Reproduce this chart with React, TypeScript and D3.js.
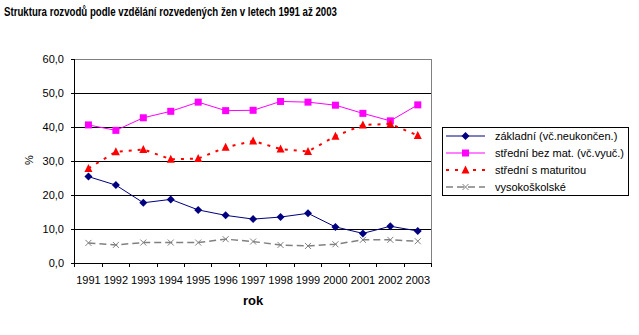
import React from "react";
import * as d3 from "d3";

const years = ["1991","1992","1993","1994","1995","1996","1997","1998","1999","2000","2001","2002","2003"];
const zakladni = [25.5,23.0,17.8,18.8,15.7,14.1,13.0,13.6,14.7,10.7,8.8,10.9,9.5];
const stredniBezMat = [40.7,39.1,42.8,44.7,47.4,44.9,45.0,47.6,47.4,46.5,44.1,41.9,46.6];
const stredniSMat = [27.9,32.8,33.5,30.6,30.8,34.1,36.0,33.6,32.9,37.4,40.7,41.0,37.6];
const vysokoskolske = [6.0,5.4,6.1,6.1,6.1,7.1,6.4,5.4,5.1,5.6,6.9,6.9,6.5];
const yTicks = [0,10,20,30,40,50,60];
const seriesNames = ["základní (vč.neukončen.)","střední bez mat. (vč.vyuč.)","střední s maturitou","vysokoškolské"];

const title = "Struktura rozvodů podle vzdělání rozvedených žen v letech 1991 až 2003";

type Series = { name: string; values: number[]; color: string; dash?: string; width: number; marker: string };

const series: Series[] = [
  { name: seriesNames[0], values: zakladni, color: "#000080", width: 1, marker: "diamond" },
  { name: seriesNames[1], values: stredniBezMat, color: "#FF00FF", width: 1, marker: "square" },
  { name: seriesNames[2], values: stredniSMat, color: "#FF0000", width: 2, dash: "3,6", marker: "triangle" },
  { name: seriesNames[3], values: vysokoskolske, color: "#808080", width: 1.5, dash: "7,4", marker: "x" },
];

function Marker({ type, x, y, color }: { type: string; x: number; y: number; color: string }) {
  if (type === "diamond") {
    return <path d={`M${x},${y - 4}L${x + 4},${y}L${x},${y + 4}L${x - 4},${y}Z`} fill={color} />;
  }
  if (type === "square") {
    return <rect x={x - 3.5} y={y - 3.5} width={7} height={7} fill={color} />;
  }
  if (type === "triangle") {
    return <path d={`M${x},${y - 4.5}L${x + 4},${y + 3.5}L${x - 4},${y + 3.5}Z`} fill={color} />;
  }
  return (
    <g stroke={color} strokeWidth={1}>
      <line x1={x - 3} y1={y - 3} x2={x + 3} y2={y + 3} />
      <line x1={x - 3} y1={y + 3} x2={x + 3} y2={y - 3} />
    </g>
  );
}

export default function App() {
  const left = 74.7, right = 431.5, top = 59.3, bottom = 263.3;
  const x = d3.scaleBand<string>().domain(years).range([left, right]);
  const y = d3.scaleLinear().domain([0, 60]).range([bottom, top]);
  const cx = (yr: string) => (x(yr) as number) + x.bandwidth() / 2;
  const line = d3.line<number>().x((_, i) => cx(years[i])).y((v) => y(v));
  const font = "'Liberation Sans', Arial, sans-serif";

  const legX = 442, legY = 127, legW = 186, legH = 68;

  return (
    <svg width={639} height={335} style={{ position: "absolute", left: 0, top: 0, background: "#fff" }} fontFamily={font}>
      <rect width={639} height={335} fill="#fff" />
      <text x={4} y={16} fontSize={12} fontWeight="bold" fill="#000" textLength={333} lengthAdjust="spacingAndGlyphs">{title}</text>

      {/* gridlines */}
      {yTicks.map((t) => (
        <line key={t} x1={left} x2={right} y1={y(t)} y2={y(t)} stroke={t === 60 ? "#808080" : "#000"} strokeWidth={1} shapeRendering="crispEdges" />
      ))}
      <line x1={right} x2={right} y1={top} y2={bottom} stroke="#808080" shapeRendering="crispEdges" />
      {/* y axis */}
      <line x1={left} x2={left} y1={top} y2={bottom} stroke="#000" shapeRendering="crispEdges" />
      {yTicks.map((t) => (
        <g key={"yt" + t}>
          <line x1={left - 3.5} x2={left} y1={y(t)} y2={y(t)} stroke="#000" shapeRendering="crispEdges" />
          <text x={64} y={y(t) + 4} fontSize={11} textAnchor="end" fill="#000">{d3.format(".1f")(t).replace(".", ",")}</text>
        </g>
      ))}
      {/* x axis */}
      <line x1={left} x2={right} y1={bottom} y2={bottom} stroke="#000" shapeRendering="crispEdges" />
      {years.concat(["end"]).map((yr, i) => {
        const xx = left + i * x.step();
        return <line key={"xt" + i} x1={xx} x2={xx} y1={bottom} y2={bottom + 4} stroke="#000" shapeRendering="crispEdges" />;
      })}
      {years.map((yr) => (
        <text key={"xl" + yr} x={cx(yr)} y={284} fontSize={11} textAnchor="middle" fill="#000">{yr}</text>
      ))}
      <text x={253} y={305} fontSize={13} fontWeight="bold" textAnchor="middle" fill="#000">rok</text>
      <text transform={`translate(33,160) rotate(-90)`} fontSize={11} textAnchor="middle" fill="#000">%</text>

      {/* series */}
      {series.map((s) => (
        <g key={s.name}>
          <path d={line(s.values) as string} fill="none" stroke={s.color} strokeWidth={s.width} strokeDasharray={s.dash} />
          {s.values.map((v, i) => (
            <Marker key={i} type={s.marker} x={cx(years[i])} y={y(v)} color={s.color} />
          ))}
        </g>
      ))}

      {/* legend */}
      <rect x={legX} y={legY} width={legW} height={legH} fill="#fff" stroke="#000" strokeWidth={1} shapeRendering="crispEdges" />
      {series.map((s, i) => {
        const ry = 136 + i * 17;
        return (
          <g key={"lg" + i}>
            <line x1={446} x2={485} y1={ry} y2={ry} stroke={s.color} strokeWidth={s.width} strokeDasharray={s.dash} />
            <Marker type={s.marker} x={465.5} y={ry} color={s.color} />
            <text x={495} y={ry + 4} fontSize={11} fill="#000">{s.name}</text>
          </g>
        );
      })}
    </svg>
  );
}
